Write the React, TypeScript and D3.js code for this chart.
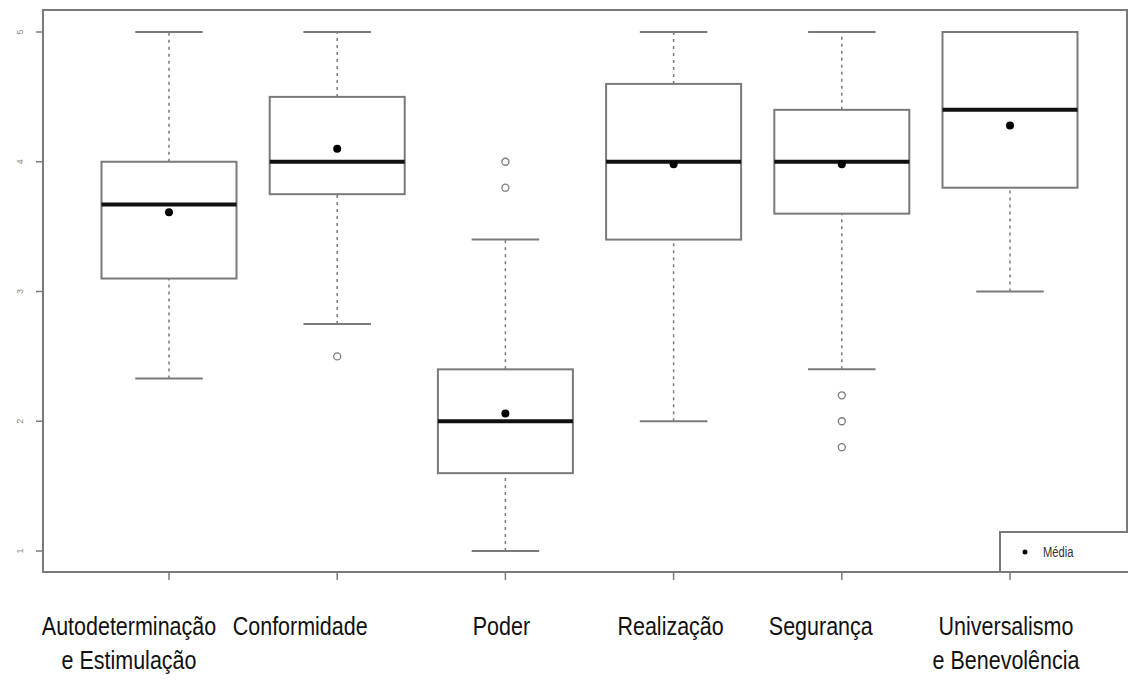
import React, { useEffect, useRef } from 'react';
import * as d3 from 'd3';

// categories (two-line labels)
const categories = [
  'Autodeterminação\ne Estimulação',
  'Conformidade',
  'Poder',
  'Realização',
  'Segurança',
  'Universalismo\ne Benevolência',
];
const whiskerLow = [2.33, 2.75, 1.0, 2.0, 2.4, 3.0];
const q1 = [3.1, 3.75, 1.6, 3.4, 3.6, 3.8];
const median = [3.67, 4.0, 2.0, 4.0, 4.0, 4.4];
const q3 = [4.0, 4.5, 2.4, 4.6, 4.4, 5.0];
const whiskerHigh = [5.0, 5.0, 3.4, 5.0, 5.0, 5.0];
const means = [3.61, 4.1, 2.06, 3.98, 3.98, 4.28];
const outliers = [[], [2.5], [4.0, 3.8], [], [2.2, 2.0, 1.8], []];
const yTicks = [1, 2, 3, 4, 5];

// label centres are shifted a bit left of the ticks in the original
const labelShift = [-40, -37, -4, -3, -21, -4];

const grey = '#7a7a7a';

const App = () => {
  const ref = useRef<SVGSVGElement>(null);

  useEffect(() => {
    if (!ref.current) return;
    const width = 1128,
      height = 682,
      left = 43,
      top = 10,
      right = 1127,
      bottom = 572;

    const svg = d3.select(ref.current);
    svg.selectAll('*').remove();

    const x = d3.scalePoint<string>().domain(categories).range([169, 1010]);
    const y = d3.scaleLinear().domain([1, 5]).range([551, 32]);
    const boxW = 135;

    svg.append('rect').attr('width', width).attr('height', height).attr('fill', 'white');

    // frame
    svg
      .append('rect')
      .attr('x', left)
      .attr('y', top)
      .attr('width', right - left)
      .attr('height', bottom - top)
      .attr('fill', 'none')
      .attr('stroke', grey)
      .attr('stroke-width', 2);

    // y axis
    yTicks.forEach((t) => {
      svg
        .append('line')
        .attr('x1', 36)
        .attr('x2', left)
        .attr('y1', y(t))
        .attr('y2', y(t))
        .attr('stroke', grey)
        .attr('stroke-width', 1.5);
      svg
        .append('text')
        .attr('transform', 'translate(23,' + y(t) + ') rotate(-90)')
        .attr('text-anchor', 'middle')
        .attr('font-family', 'Liberation Sans, Arial, sans-serif')
        .attr('font-size', 9)
        .attr('fill', '#888')
        .text(t);
    });

    // x ticks + labels
    categories.forEach((c, i) => {
      const cx = x(c)!;
      svg
        .append('line')
        .attr('x1', cx)
        .attr('x2', cx)
        .attr('y1', bottom)
        .attr('y2', bottom + 8)
        .attr('stroke', grey)
        .attr('stroke-width', 1.5);
      const lines = c.split('\n');
      lines.forEach((ln, j) => {
        svg
          .append('text')
          .attr('transform', 'translate(' + (cx + labelShift[i]) + ',' + (635 + j * 34) + ') scale(0.86,1)')
          .attr('text-anchor', 'middle')
          .attr('font-family', 'Liberation Sans, Arial, sans-serif')
          .attr('font-size', 25)
          .attr('fill', '#111')
          .text(ln);
      });
    });

    // boxes
    categories.forEach((c, i) => {
      const cx = x(c)!;
      const g = svg.append('g');
      // whiskers
      [
        [whiskerLow[i], q1[i]],
        [q3[i], whiskerHigh[i]],
      ].forEach(([a, b]) => {
        if (a === b) return;
        g.append('line')
          .attr('x1', cx)
          .attr('x2', cx)
          .attr('y1', y(a))
          .attr('y2', y(b))
          .attr('stroke', grey)
          .attr('stroke-width', 1.5)
          .attr('stroke-dasharray', '3,4');
      });
      [whiskerLow[i], whiskerHigh[i]].forEach((v) => {
        g.append('line')
          .attr('x1', cx - boxW / 4)
          .attr('x2', cx + boxW / 4)
          .attr('y1', y(v))
          .attr('y2', y(v))
          .attr('stroke', grey)
          .attr('stroke-width', 2);
      });
      g.append('rect')
        .attr('x', cx - boxW / 2)
        .attr('y', y(q3[i]))
        .attr('width', boxW)
        .attr('height', y(q1[i]) - y(q3[i]))
        .attr('fill', 'white')
        .attr('stroke', grey)
        .attr('stroke-width', 2);
      g.append('line')
        .attr('x1', cx - boxW / 2)
        .attr('x2', cx + boxW / 2)
        .attr('y1', y(median[i]))
        .attr('y2', y(median[i]))
        .attr('stroke', '#111')
        .attr('stroke-width', 4);
      outliers[i].forEach((o) => {
        g.append('circle')
          .attr('cx', cx)
          .attr('cy', y(o))
          .attr('r', 3.5)
          .attr('fill', 'none')
          .attr('stroke', grey)
          .attr('stroke-width', 1.3);
      });
      g.append('circle').attr('cx', cx).attr('cy', y(means[i])).attr('r', 4).attr('fill', '#000');
    });

    // legend
    svg
      .append('rect')
      .attr('x', 1000)
      .attr('y', 532)
      .attr('width', 140)
      .attr('height', bottom - 532)
      .attr('fill', 'white')
      .attr('stroke', grey)
      .attr('stroke-width', 2);
    svg.append('circle').attr('cx', 1025).attr('cy', 552).attr('r', 2.5).attr('fill', '#000');
    svg
      .append('text')
      .attr('transform', 'translate(1043,557) scale(0.8,1)')
      .attr('font-family', 'Liberation Sans, Arial, sans-serif')
      .attr('font-size', 14)
      .attr('fill', '#333')
      .text('Média');
  }, []);

  return (
    <svg
      ref={ref}
      width={1128}
      height={682}
      style={{ position: 'absolute', left: 0, top: 0, display: 'block' }}
    />
  );
};

export default App;
